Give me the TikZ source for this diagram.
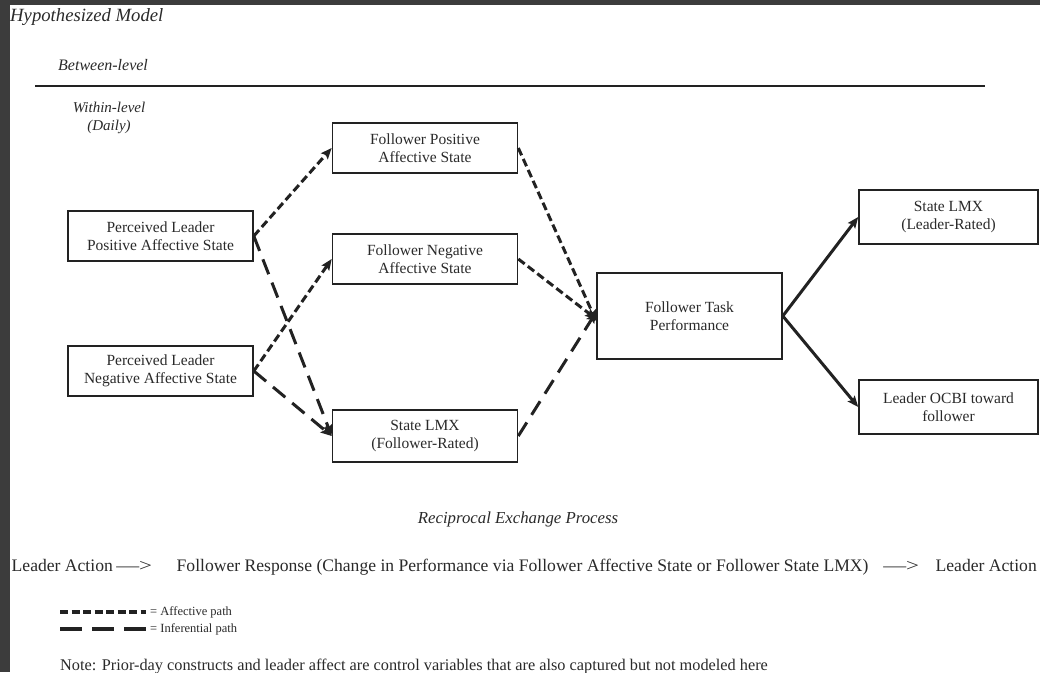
\documentclass[tikz,border=0pt]{standalone}
\usepackage{fontspec}
\setmainfont{Liberation Serif}
\usetikzlibrary{arrows.meta}
\definecolor{ink}{HTML}{2A2A2A}
\definecolor{edge}{HTML}{222222}
\definecolor{frame}{HTML}{3C3C3C}
\begin{document}
\begin{tikzpicture}[x=1pt,y=-1pt,
  box/.style={draw=edge, line width=1.6pt, minimum width=185pt, minimum height=50pt,
    align=center, font=\fontsize{15.5}{18}\selectfont, text=ink, inner sep=0pt},
  tip/.style={-{Stealth[length=11pt,width=9pt,inset=2pt]}},
  aff/.style={draw=edge, line width=3pt, dash pattern=on 8pt off 4pt, tip},
  inf/.style={draw=edge, line width=3pt, dash pattern=on 16pt off 9pt, tip},
  sol/.style={draw=edge, line width=3pt, tip},
  lbl/.style={text=ink, inner sep=0pt},
  seqf/.style={lbl, font=\fontsize{17.6}{19}\selectfont},
]
\useasboundingbox (0,0) rectangle (1040,672);
\fill[white] (0,0) rectangle (1040,672);
\fill[frame] (0,0) rectangle (1040,5);
\fill[frame] (0,0) rectangle (10,672);

% header
\node[lbl, anchor=base west, font=\fontsize{18.7}{20}\selectfont\itshape] (title) at (10,21) {Hypothesized Model};
\node[lbl, anchor=base west, font=\fontsize{16}{17}\selectfont\itshape] (between) at (58,70) {Between-level};
\draw[draw=edge, line width=1.6pt] (35,86) coordinate (hl) -- (985,86) coordinate (hr);
\node[lbl, align=center, anchor=north, font=\fontsize{15}{18}\selectfont\itshape] (within) at (109,102) {Within-level\\(Daily)};

% boxes
\node[box] (plp) at (160.5,236) {Perceived Leader\\Positive Affective State};
\node[box] (pln) at (160.5,371) {Perceived Leader\\Negative Affective State};
\node[box] (fpa) at (425,148) {Follower Positive\\Affective State};
\node[box] (fna) at (425,259) {Follower Negative\\Affective State};
\node[box, minimum height=52pt] (lmxf) at (425,436) {State LMX\\(Follower-Rated)};
\node[box, minimum height=86pt] (ftp) at (689.5,316) {Follower Task\\Performance};
\node[box, minimum width=179pt, minimum height=54pt] (lmxl) at (948.5,217) {State LMX\\(Leader-Rated)};
\node[box, minimum width=179pt, minimum height=54pt] (ocbi) at (948.5,407) {Leader OCBI toward\\follower};

% connectors
\draw[aff] (plp.east) -- (fpa.west);
\draw[inf] (plp.east) -- (lmxf.west);
\draw[aff] (pln.east) -- (fna.west);
\draw[inf] (pln.east) -- (lmxf.west);
\draw[aff] (fpa.east) -- ([yshift=-5pt]ftp.west);
\draw[aff] (fna.east) -- ([yshift=-3pt]ftp.west);
\draw[inf] (lmxf.east) -- ([yshift=4pt]ftp.west);
\draw[sol] (ftp.east) -- (lmxl.west);
\draw[sol] (ftp.east) -- (ocbi.west);

% reciprocal exchange
\node[lbl, font=\fontsize{16.8}{18}\selectfont\itshape] (rep) at (518,519) {Reciprocal Exchange Process};
\node[seqf, anchor=base west] (s1) at (11.5,571.5) {Leader Action};
\node[seqf, anchor=base west, xscale=1.3] (s2) at (116,571.5) {—>};
\node[seqf, anchor=base west] (s3) at (176.5,571.5) {Follower Response (Change in Performance via Follower Affective State or Follower State LMX)};
\node[seqf, anchor=base west, xscale=1.3] (s4) at (883,571.5) {—>};
\node[seqf, anchor=base east] (s5) at (1037,571.5) {Leader Action};

% legend
\draw[draw=edge, line width=3.5pt, dash pattern=on 8pt off 3.5pt] (60,612) coordinate (la1) -- (146,612) coordinate (la2);
\node[lbl, anchor=west, font=\fontsize{12.5}{14}\selectfont] (laff) at (150,612) {= Affective path};
\draw[draw=edge, line width=3.5pt, dash pattern=on 22pt off 10pt] (60,629) coordinate (li1) -- (146,629) coordinate (li2);
\node[lbl, anchor=west, font=\fontsize{12.5}{14}\selectfont] (linf) at (150,629) {= Inferential path};

\node[lbl, anchor=base west, font=\fontsize{16.3}{17}\selectfont] (note) at (60,670)
  {Note: Prior-day constructs and leader affect are control variables that are also captured but not modeled here};
\end{tikzpicture}
\end{document}
